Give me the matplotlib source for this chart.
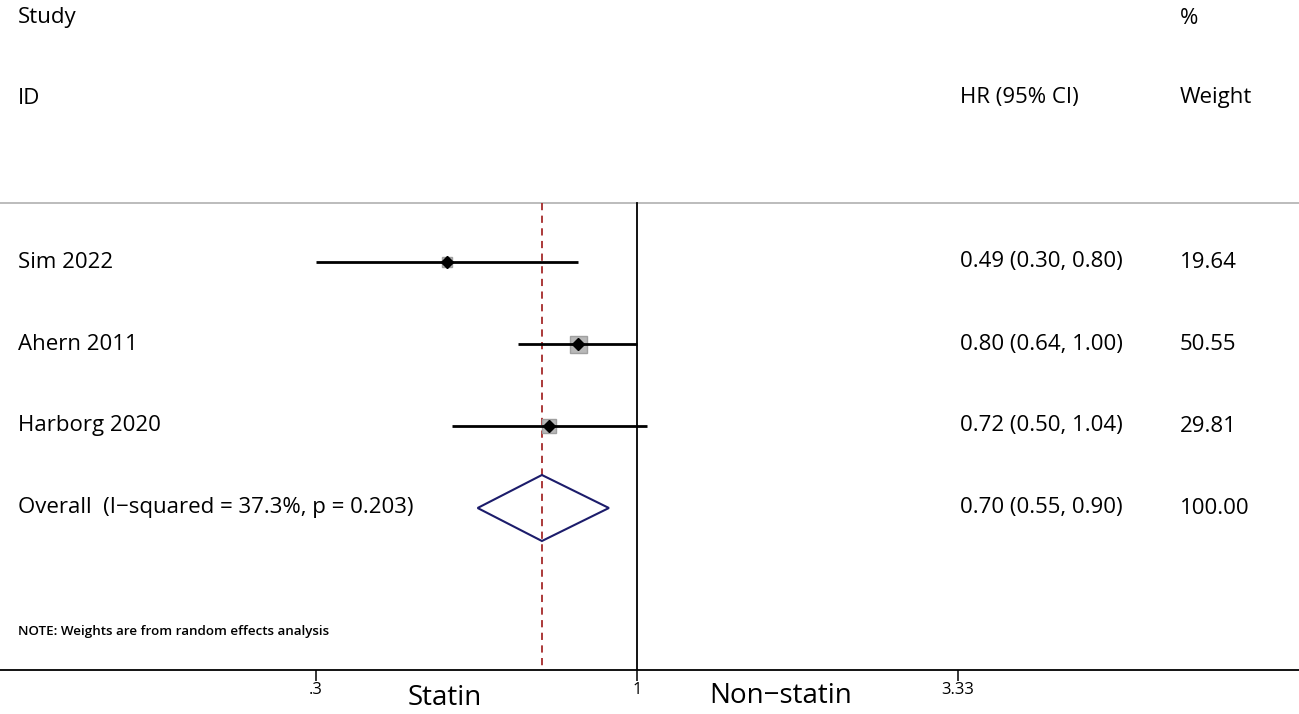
import numpy as np
import matplotlib
matplotlib.use("Agg")
import matplotlib.pyplot as plt
from matplotlib.patches import Polygon

studies = ["Sim 2022", "Ahern 2011", "Harborg 2020"]
hr = [0.49, 0.80, 0.72]
lo = [0.30, 0.64, 0.50]
hi = [0.80, 1.00, 1.04]
weights = [19.64, 50.55, 29.81]
overall_label = "Overall  (I\u2212squared = 37.3%, p = 0.203)"
overall = 0.70
overall_lo = 0.55
overall_hi = 0.90
overall_weight = 100.00
tick_vals = [0.3, 1, 3.33]
tick_labels = [".3", "1", "3.33"]

plt.rcParams['font.family'] = ['Open Sans', 'DejaVu Sans']

W, H = 1299, 714
fig = plt.figure(figsize=(W / 100, H / 100), dpi=100)
ax_bottom_px = 670
ax = fig.add_axes([0, (H - ax_bottom_px) / H, 1, ax_bottom_px / H])

# pixel -> data mappings
px_per_ln = 266.6
x_one_px = 637
def px2x(p):
    return np.exp((p - x_one_px) / px_per_ln)
row0_px, row_sp = 262, 82
def py2y(p):
    return (p - row0_px) / row_sp

ax.set_xscale('log')
ax.set_xlim(px2x(0), px2x(W))
ax.set_ylim(py2y(ax_bottom_px), py2y(0))

for s in ['top', 'left', 'right']:
    ax.spines[s].set_visible(False)
ax.spines['bottom'].set_linewidth(1.3)
ax.set_yticks([])
ax.set_xticks(tick_vals)
ax.set_xticklabels(tick_labels, fontsize=12)
ax.minorticks_off()
ax.tick_params(axis='x', direction='out', length=8, width=1.1, pad=1)

top_y = py2y(203)
bot_y = py2y(ax_bottom_px)
ax.axhline(top_y, color='#b0b0b0', lw=1.2)
ax.plot([1, 1], [top_y, bot_y], color='black', lw=1.3)
ax.plot([overall, overall], [top_y, bot_y], color='#a52a2a', lw=1.3, ls=(0, (4, 3)))

maxw = max(weights)
for i, (l, h_, e, w) in enumerate(zip(lo, hi, hr, weights)):
    ax.plot([l, h_], [i, i], color='black', lw=2.0, solid_capstyle='butt', zorder=3)
    side = 17 * np.sqrt(w / maxw)
    ax.plot(e, i, marker='s', markersize=side * 0.72, color='#b8b8b8',
            markeredgecolor='#a0a0a0', zorder=2)
    ax.plot(e, i, marker='D', markersize=6, color='black', zorder=4)

yo = len(studies)
dh = 33 / row_sp
diamond = Polygon([[overall_lo, yo], [overall, yo - dh], [overall_hi, yo], [overall, yo + dh]],
                  closed=True, fill=False, edgecolor='#1c1c6b', lw=1.5, zorder=3)
ax.add_patch(diamond)

fs = 16
def t(xpx, ypx, s, **kw):
    fig.text(xpx / W, 1 - ypx / H, s, va='center', **kw)

t(18, 18, "Study", fontsize=fs)
t(18, 98, "ID", fontsize=fs)
t(960, 98, "HR (95% CI)", fontsize=fs)
t(1180, 18, "%", fontsize=fs)
t(1180, 98, "Weight", fontsize=fs)

labels = studies + [overall_label]
hrs = hr + [overall]
los = lo + [overall_lo]
his = hi + [overall_hi]
ws = weights + [overall_weight]
for i in range(len(labels)):
    ypx = row0_px + i * row_sp
    t(18, ypx, labels[i], fontsize=fs)
    t(960, ypx, f"{hrs[i]:.2f} ({los[i]:.2f}, {his[i]:.2f})", fontsize=fs)
    t(1180, ypx, f"{ws[i]:.2f}", fontsize=fs)

t(18, 631, "NOTE: Weights are from random effects analysis", fontsize=9.6, fontweight='semibold')

fig.text(445 / W, 1 - 698 / H, "Statin", fontsize=20, ha='center', va='center')
fig.text(781 / W, 1 - 696 / H, "Non\u2212statin", fontsize=20, ha='center', va='center')

fig.savefig("out.png", dpi=100)
